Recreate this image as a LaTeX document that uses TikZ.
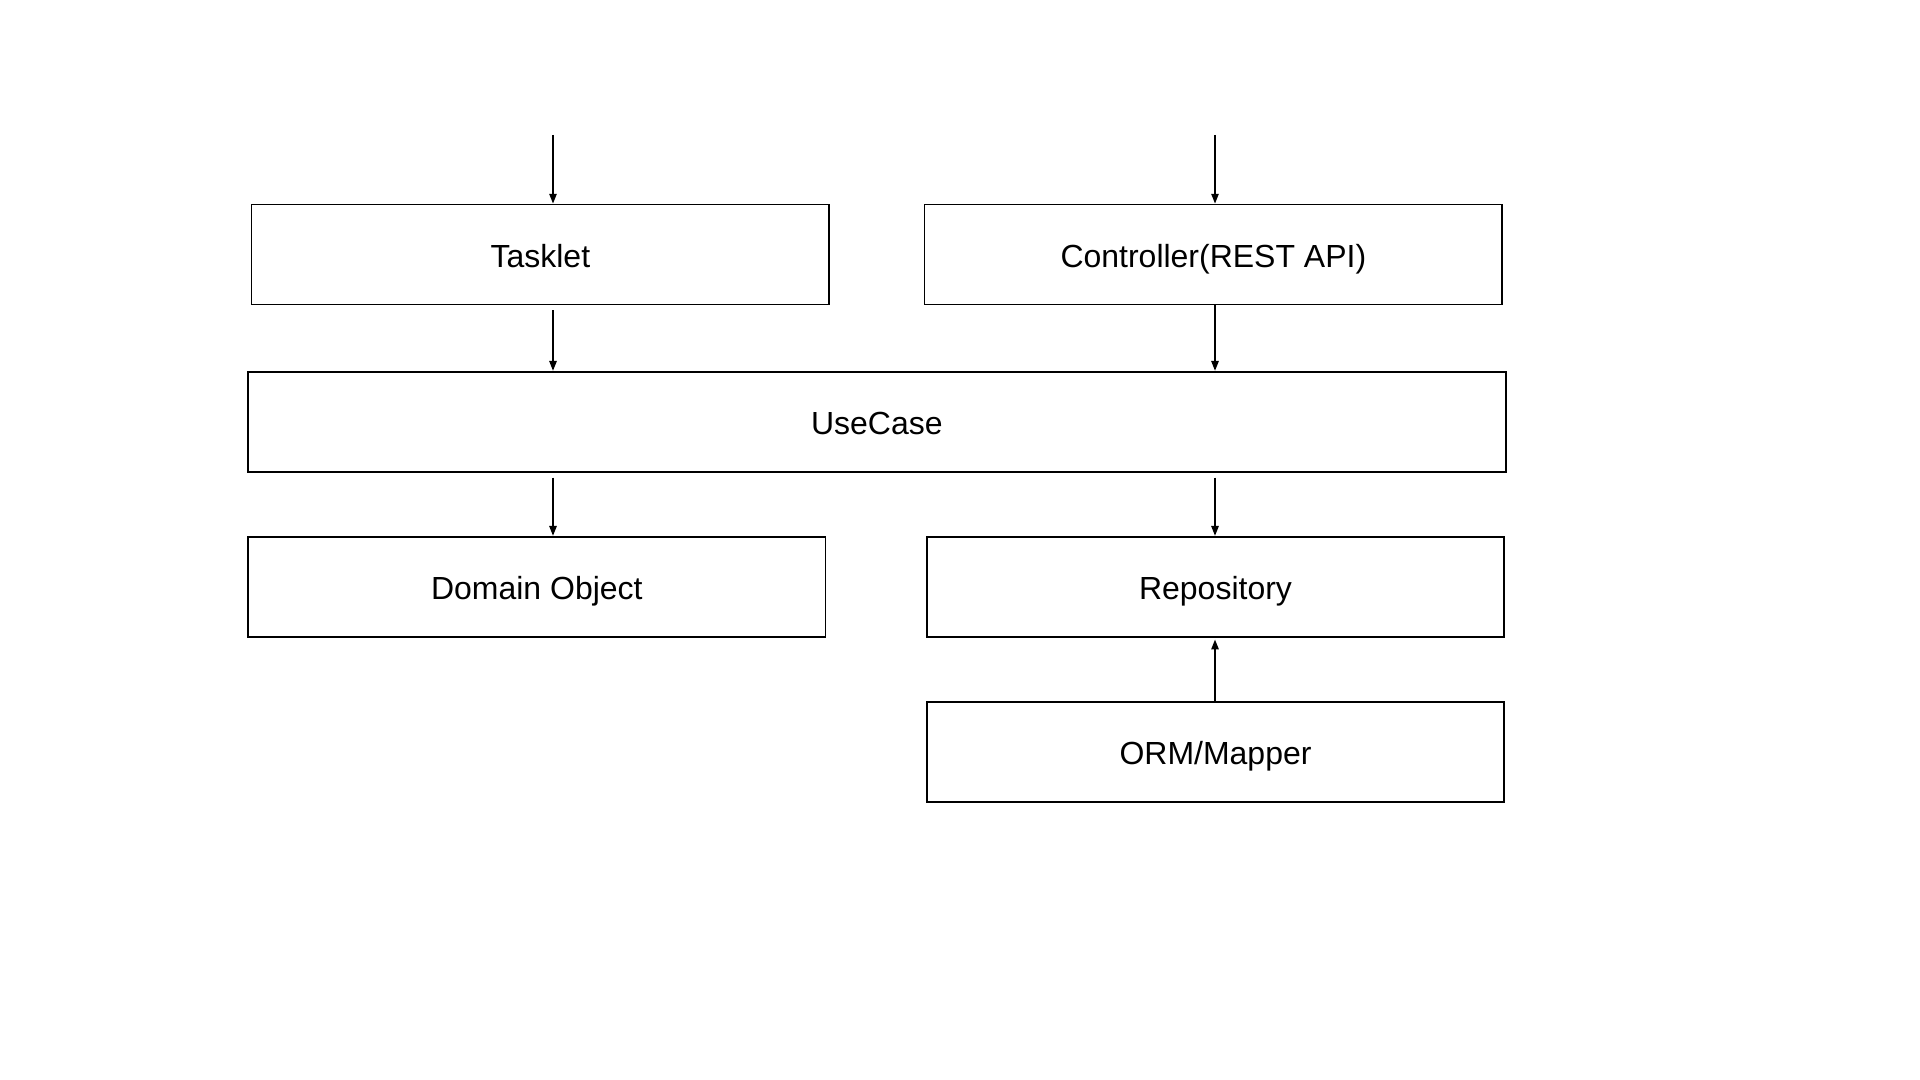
\documentclass[tikz,border=0pt]{standalone}
\usepackage{fontspec}
\setmainfont{Liberation Sans}
\usetikzlibrary{arrows.meta}

\begin{document}
\begin{tikzpicture}[
        box/.style={draw,line width=0.5pt,minimum width=5.775cm,minimum height=1cm,inner sep=0pt,
                    text height=0.716em,text depth=0pt,font=\fontsize{9.1}{11}\selectfont},
        arr/.style={line width=0.45pt,-{Triangle[length=2.8pt,width=2.1pt]}}]
        \useasboundingbox (0,0) rectangle (19.2,10.8); % page
        \coordinate (inA) at (5.53,9.45);  % left column
        \coordinate (inB) at (12.15,9.45); % right column

        \node[box] (tasklet) at (5.4035,8.255) {Tasklet};
        \node[box] (ctrl) at (12.1335,8.255) {Controller(REST API)};
        \node[box,minimum width=12.577cm] (usecase) at (8.7685,6.583) {UseCase};
        \node[box] (domain) at (5.3685,4.933) {Domain Object};
        \node[box] (repo) at (12.155,4.933) {Repository};
        \node[box] (orm) at (12.155,3.283) {ORM/Mapper};

        \draw[arr] (inA) -- (tasklet.north -| inA);
        \draw[arr] (inB) -- (ctrl.north -| inB);
        \draw[arr] ([yshift=-0.05cm]tasklet.south -| inA) -- (usecase.north -| inA);
        \draw[arr] (ctrl.south -| inB) -- (usecase.north -| inB);
        \draw[arr] ([yshift=-0.05cm]usecase.south -| inA) -- (domain.north -| inA);
        \draw[arr] ([yshift=-0.05cm]usecase.south -| inB) -- (repo.north -| inB);
        \draw[arr] (orm.north -| inB) -- ([yshift=-0.02cm]repo.south -| inB); % mapper up
\end{tikzpicture}
\end{document}
